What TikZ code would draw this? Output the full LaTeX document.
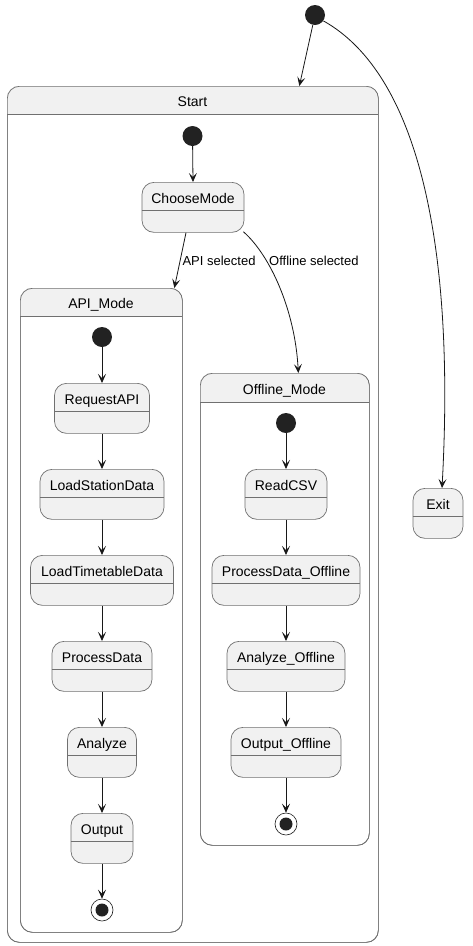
\documentclass[tikz,border=0pt]{standalone}
\usepackage{fontspec}
\setmainfont{Liberation Sans}
\usetikzlibrary{arrows.meta,calc}
\definecolor{stfill}{HTML}{F1F1F1}
\definecolor{stline}{HTML}{181818}
\definecolor{boxline}{HTML}{707070}
\definecolor{dot}{HTML}{222222}
\newcommand\mystate[5]{%
  \node[st,minimum width=#4pt,anchor=north] (#1) at (#2,#3) {};
  \node[lbl,anchor=base] (#1t) at ($(#1.north)+(0,21)$) {#5};
  \draw[sep] ($(#1.north west)+(0,28.5)$) -- ($(#1.north east)+(0,28.5)$);
}
\begin{document}
\begin{tikzpicture}[x=1pt,y=-1pt,
  st/.style={rectangle,rounded corners=12pt,draw=boxline,line width=0.7pt,fill=stfill,minimum height=50pt,inner sep=0pt},
  cluster/.style={rectangle,rounded corners=12pt,draw=boxline,line width=0.7pt,inner sep=0pt},
  lbl/.style={font=\fontsize{14}{16}\selectfont,inner sep=0pt},
  elbl/.style={font=\fontsize{13}{15}\selectfont,inner sep=0pt},
  sep/.style={draw=boxline,line width=0.7pt},
  init/.style={circle,fill=dot,minimum size=20pt,inner sep=0pt},
  fin/.style={circle,draw=stline,line width=0.6pt,fill=white,minimum size=22pt,inner sep=0pt,
    path picture={\fill[dot] (path picture bounding box.center) circle (6.5pt);}},
  arr/.style={draw=stline,line width=0.8pt,-{Stealth[length=9pt,width=8pt,inset=4pt]}}
]
\useasboundingbox (0,0) rectangle (473,946);

% Start cluster
\node[cluster,fill=white,minimum width=371pt,minimum height=856pt,anchor=north west] (S) at (7,86) {};
\begin{scope}
  \clip[rounded corners=12pt] (7,86) rectangle (378,942);
  \fill[stfill] (7,86) rectangle (378,114);
\end{scope}
\node[cluster,minimum width=371pt,minimum height=856pt,anchor=north west] (S2) at (7,86) {};
\draw[sep] (7,114) -- (378,114);
\node[lbl,anchor=base] (St) at (192.5,106) {Start};

% API_Mode cluster
\node[cluster,fill=white,minimum width=162pt,minimum height=644pt,anchor=north west] (AM) at (20,288) {};
\begin{scope}
  \clip[rounded corners=12pt] (20,288) rectangle (182,932);
  \fill[stfill] (20,288) rectangle (182,316);
\end{scope}
\node[cluster,minimum width=162pt,minimum height=644pt,anchor=north west] (AM2) at (20,288) {};
\draw[sep] (20,316) -- (182,316);
\node[lbl,anchor=base] (AMt) at (101,308) {API\_Mode};

% Offline_Mode cluster
\node[cluster,fill=white,minimum width=169pt,minimum height=472pt,anchor=north west] (OM) at (200,373) {};
\begin{scope}
  \clip[rounded corners=12pt] (200,373) rectangle (369,845);
  \fill[stfill] (200,373) rectangle (369,402);
\end{scope}
\node[cluster,minimum width=169pt,minimum height=472pt,anchor=north west] (OM2) at (200,373) {};
\draw[sep] (200,402) -- (369,402);
\node[lbl,anchor=base] (OMt) at (284.5,394) {Offline\_Mode};

% top initial
\node[init] (i0) at (315,15) {};
% start inner initial
\node[init] (i1) at (192.5,136) {};
\mystate{cm}{193}{182}{102}{ChooseMode}

% API column
\node[init] (i2) at (102,337) {};
\mystate{ra}{102}{383}{95}{RequestAPI}
\mystate{ls}{102}{469}{124}{LoadStationData}
\mystate{lt}{102}{555}{143}{LoadTimetableData}
\mystate{pd}{102}{641}{100}{ProcessData}
\mystate{an}{102}{727}{69}{Analyze}
\mystate{ou}{102}{813}{62}{Output}
\node[fin] (f1) at (102,910) {};

% Offline column
\node[init] (i3) at (286,423) {};
\mystate{rc}{286}{469}{82}{ReadCSV}
\mystate{po}{286}{555}{148}{ProcessData\_Offline}
\mystate{ao}{286}{641}{118}{Analyze\_Offline}
\mystate{oo}{286}{727}{110}{Output\_Offline}
\node[fin] (f2) at (286,824) {};

% Exit
\mystate{ex}{438}{488}{50}{Exit}

% connectors
\draw[arr] (i0) -- ($(S.north)+(106.5,0)$);
\draw[arr] (i0.-35) .. controls (420,75) and (455,250) .. ($(ex.north)+(4,0)$);
\draw[arr] (i1) -- (cm.north);
\draw[arr] ($(cm.south)+(-7,0)$) -- ($(AM.north)+(73,0)$) node[elbl,pos=0.5,anchor=west,xshift=2pt] (l1) {API selected};
\draw[arr] ($(cm.south east)+(-1,-1)$) .. controls (270,255) and (295,310) .. ($(OM.north)+(13.5,0)$);
\node[elbl,anchor=west] (l2) at (269,261) {Offline selected};

\draw[arr] (i2) -- (ra.north);
\draw[arr] (ra.south) -- (ls.north);
\draw[arr] (ls.south) -- (lt.north);
\draw[arr] (lt.south) -- (pd.north);
\draw[arr] (pd.south) -- (an.north);
\draw[arr] (an.south) -- (ou.north);
\draw[arr] (ou.south) -- (f1);

\draw[arr] (i3) -- (rc.north);
\draw[arr] (rc.south) -- (po.north);
\draw[arr] (po.south) -- (ao.north);
\draw[arr] (ao.south) -- (oo.north);
\draw[arr] (oo.south) -- (f2);
\end{tikzpicture}
\end{document}
